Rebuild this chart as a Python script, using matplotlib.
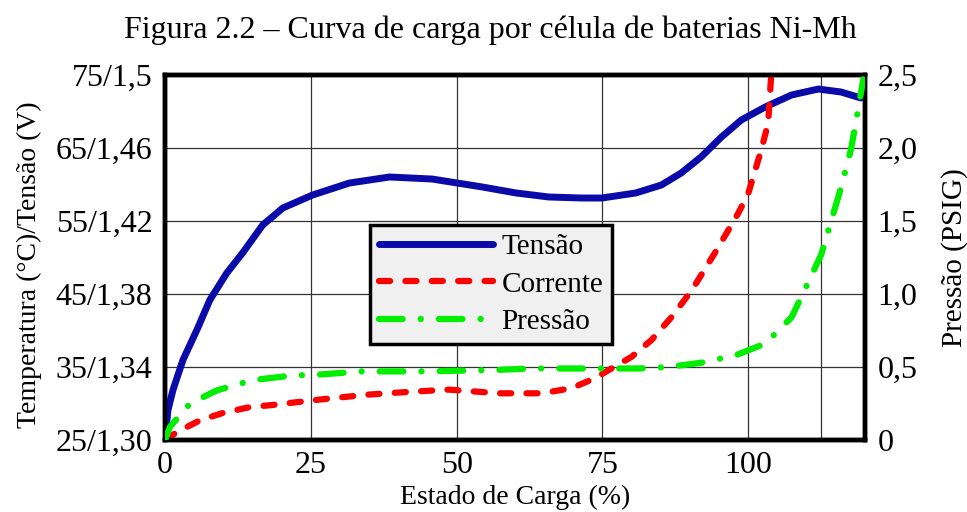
import matplotlib
matplotlib.use("Agg")
import matplotlib.pyplot as plt
from matplotlib.lines import Line2D

plt.rcParams['font.family'] = ['Liberation Serif', 'DejaVu Serif']
plt.rcParams['lines.scale_dashes'] = False

title = "Figura 2.2 – Curva de carga por célula de baterias Ni-Mh"
xlabel = "Estado de Carga (%)"
ylabel_left = "Temperatura (°C)/Tensão (V)"
ylabel_right = "Pressão (PSIG)"

x_ticks = [0, 25, 50, 75, 100]
x_grid_extra = [112.5]
y_ticks = [25, 35, 45, 55, 65, 75]
y_ticklabels = ["25/1,30", "35/1,34", "45/1,38", "55/1,42", "65/1,46", "75/1,5"]
r_ticks = [0, 0.5, 1.0, 1.5, 2.0, 2.5]
r_ticklabels = ["0", "0,5", "1,0", "1,5", "2,0", "2,5"]

tensao_x = [0, 0.51, 1.37, 3.08, 5.47, 7.69, 10.6, 13.3, 16.75, 20.2, 25.3, 31.6, 38.5,
            45.8, 54.4, 60.2, 65.8, 71.5, 74.9, 80.7, 85.1, 88.5, 91.9, 95.4, 98.8,
            102.9, 107.4, 112.0, 115.9, 119.3]
tensao_y = [25, 29.1, 31.85, 35.96, 40.07, 44.18, 47.88, 50.62, 54.45, 56.78, 58.56, 60.2,
            61.03, 60.75, 59.66, 58.84, 58.29, 58.15, 58.15, 58.84, 59.93, 61.58, 63.77,
            66.51, 68.84, 70.62, 72.26, 73.08, 72.67, 71.85]

corrente_x = [0, 2.1, 6.0, 9.9, 14.5, 18.5, 26.0, 34.5, 41.9, 48.7, 57.3, 64.6, 69.7,
              73.8, 76.1, 80.0, 83.4, 86.8, 90.3, 94.4, 98.3, 100, 102.2, 103.4, 104.0]
corrente_y = [25, 26.1, 27.7, 28.7, 29.5, 29.8, 30.5, 31.2, 31.6, 31.9, 31.4, 31.4, 32.1,
              33.5, 34.6, 36.4, 38.7, 41.8, 45.5, 50.8, 56.1, 58.8, 64.7, 68.4, 76]

pressao_x = [0, 0.85, 4.3, 8.9, 15.0, 21.4, 27.0, 33.8, 44.8, 56.8, 62.9, 74.4, 81.2,
             86.3, 92.0, 97.8, 102.9, 107.4, 109.1, 112.5, 115.9, 117.6, 118.5, 119.7]
pressao_y = [0, 0.09, 0.25, 0.34, 0.41, 0.44, 0.45, 0.47, 0.47, 0.48, 0.49, 0.49, 0.49,
             0.50, 0.53, 0.58, 0.66, 0.84, 0.98, 1.27, 1.73, 1.99, 2.19, 2.47]

fig = plt.figure(figsize=(9.67, 5.12), dpi=100)
ax = fig.add_axes([0.1706, 0.1406, 0.7239, 0.7129])
ax2 = ax.twinx()

blue = '#0a0aa8'
red = '#ff0000'
green = '#00ee00'
red_dash = (8, 11)
green_dash = (17, 13, 0.1, 13)

ax.set_xlim(0, 120)
ax.set_ylim(25, 75)
ax2.set_ylim(0, 2.5)

for v in x_ticks[1:] + x_grid_extra:
    ax.axvline(v, color='#333333', lw=0.9, zorder=0)
for v in y_ticks[1:-1]:
    ax.axhline(v, color='#333333', lw=0.9, zorder=0)

ax.plot(tensao_x, tensao_y, color=blue, lw=5, solid_capstyle='round',
        solid_joinstyle='round', zorder=3)
ax.plot(corrente_x, corrente_y, color=red, lw=4.5, dashes=red_dash,
        dash_capstyle='round', zorder=3)
ax2.plot(pressao_x, pressao_y, color=green, lw=4.5, dashes=green_dash,
         dash_capstyle='round', zorder=3)

ax.set_xticks(x_ticks)
ax.set_xticklabels([str(t) for t in x_ticks], fontsize=23)
ax.set_yticks(y_ticks)
ax.set_yticklabels(y_ticklabels, fontsize=23)
ax2.set_yticks(r_ticks)
ax2.set_yticklabels(r_ticklabels, fontsize=23)
ax.tick_params(axis='x', length=0, pad=8)
ax.tick_params(axis='y', length=0, pad=9)
ax2.tick_params(axis='y', length=0, pad=9)
for a in (ax, ax2):
    for s in a.spines.values():
        s.set_linewidth(3.2)
        s.set_color('black')

ax.set_xlabel(xlabel, fontsize=20)
ax.xaxis.set_label_coords(0.5, -0.158)
ax.xaxis.label.set_va('center')
ax.set_ylabel(ylabel_left, fontsize=20)
ax.yaxis.set_label_coords(-0.193, 0.479)
ax.yaxis.label.set_va('center')
ax2.set_ylabel(ylabel_right, fontsize=21)
ax2.yaxis.set_label_coords(1.128, 0.5)
ax2.yaxis.label.set_va('center')
fig.text(0.507, 0.941, title, ha='center', va='center', fontsize=23)

handles = [
    Line2D([], [], color=blue, lw=5, solid_capstyle='round'),
    Line2D([], [], color=red, lw=4.5, dashes=red_dash, dash_capstyle='round'),
    Line2D([], [], color=green, lw=4.5, dashes=green_dash, dash_capstyle='round'),
]
leg = ax2.legend(handles, ["Tensão", "Corrente", "Pressão"], loc='upper left',
                 bbox_to_anchor=(0.293, 0.589),
                 fontsize=21, handlelength=3.9, handletextpad=0.3,
                 frameon=True, fancybox=False, framealpha=1, borderpad=0.3,
                 labelspacing=0.38, borderaxespad=0)
leg.get_frame().set_facecolor('#f0f0f0')
leg.get_frame().set_edgecolor('black')
leg.get_frame().set_linewidth(2.5)
leg.set_zorder(10)

fig.savefig("out.png", dpi=100)
